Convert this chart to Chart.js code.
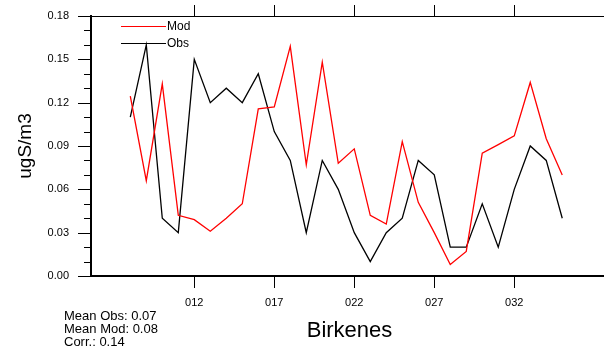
<!DOCTYPE html>
<html>
<head>
<meta charset="utf-8">
<script src="https://cdn.jsdelivr.net/npm/chart.js@4"></script>
<style>
  html, body { margin: 0; padding: 0; background: #fff; overflow: hidden; }
  #wrap { width: 608px; height: 353px; }
</style>
</head>
<body>
<div id="wrap"><canvas id="chart" width="608" height="353"></canvas></div>
<script>
// daily series, day of month
const days = [8, 9, 10, 11, 12, 13, 14, 15, 16, 17, 18, 19, 20, 21, 22, 23, 24, 25, 26, 27, 28, 29, 30, 31, 32, 33, 34, 35];
const obsValues = [0.110, 0.160, 0.040, 0.030, 0.150, 0.120, 0.130, 0.120, 0.140, 0.100, 0.080, 0.030, 0.080, 0.060,
                   0.030, 0.010, 0.030, 0.040, 0.080, 0.070, 0.020, 0.020, 0.050, 0.020, 0.060, 0.090, 0.080, 0.040];
const modValues = [0.1245, 0.066, 0.133, 0.042, 0.039, 0.031, 0.040, 0.050, 0.1157, 0.117, 0.159, 0.077, 0.148, 0.078,
                   0.088, 0.042, 0.036, 0.093, 0.051, 0.030, 0.008, 0.017, 0.085, 0.091, 0.097, 0.134, 0.095, 0.070];
const xTickDays = [12, 17, 22, 27, 32];
const yTickValues = [0, 0.03, 0.06, 0.09, 0.12, 0.15, 0.18];
const statLines = ['Mean Obs: 0.07', 'Mean Mod: 0.08', 'Corr.: 0.14'];
const stationName = 'Birkenes';
const unitLabel = 'ugS/m3';

const FONT = '"Liberation Sans", Arial, Helvetica, sans-serif';

function toPoints(vals) {
  return days.map((d, i) => ({ x: d, y: vals[i] }));
}

// tick marks, legend and stats box drawn on top of the chart
const decorations = {
  id: 'decorations',
  afterDraw(chart) {
    const ctx = chart.ctx;
    const { left, top, bottom } = chart.chartArea;
    const xs = chart.scales.x;
    const ys = chart.scales.y;
    ctx.save();
    ctx.strokeStyle = '#000';
    ctx.lineWidth = 1;

    // y ticks: majors every 0.03, minors every 0.01
    for (let i = 0; i <= 18; i++) {
      const py = Math.round(ys.getPixelForValue(i / 100)) + 0.5;
      const len = i % 3 === 0 ? 13 : 7;
      ctx.beginPath();
      ctx.moveTo(left - len, py);
      ctx.lineTo(left, py);
      ctx.stroke();
    }

    // x ticks, outward on bottom and top
    xTickDays.forEach(d => {
      const px = Math.round(xs.getPixelForValue(d)) + 0.5;
      ctx.beginPath();
      ctx.moveTo(px, bottom);
      ctx.lineTo(px, bottom + 12);
      ctx.moveTo(px, top);
      ctx.lineTo(px, top - 11);
      ctx.stroke();
    });

    // legend
    ctx.font = '12px ' + FONT;
    ctx.textBaseline = 'middle';
    ctx.textAlign = 'left';
    chart.data.datasets.forEach((ds, i) => {
      const ly = 26.5 + i * 17;
      ctx.strokeStyle = ds.borderColor;
      ctx.beginPath();
      ctx.moveTo(121, ly);
      ctx.lineTo(166, ly);
      ctx.stroke();
      ctx.fillStyle = '#000';
      ctx.fillText(ds.label, 167, ly + 0.5);
    });

    // summary statistics
    ctx.font = '13px ' + FONT;
    statLines.forEach((s, i) => ctx.fillText(s, 64, 316 + i * 13));
    ctx.restore();
  }
};

new Chart(document.getElementById('chart'), {
  type: 'line',
  data: {
    datasets: [
      { label: 'Mod', data: toPoints(modValues), borderColor: '#ff0000', borderWidth: 1.3, pointRadius: 0, tension: 0 },
      { label: 'Obs', data: toPoints(obsValues), borderColor: '#000000', borderWidth: 1.3, pointRadius: 0, tension: 0 }
    ]
  },
  options: {
    responsive: false,
    animation: false,
    layout: { padding: 0 },
    plugins: { legend: { display: false }, tooltip: { enabled: false } },
    scales: {
      x: {
        type: 'linear',
        position: 'bottom',
        min: 5.544,
        max: 37.86,
        afterBuildTicks: s => { s.ticks = xTickDays.map(v => ({ value: v })); },
        afterFit: s => { s.height = 77; s.paddingLeft = 0; s.paddingRight = 0; },
        grid: { display: false, drawTicks: false },
        border: { display: true, color: '#000', width: 2 },
        ticks: {
          padding: 20,
          color: '#000',
          font: { family: FONT, size: 11 },
          maxRotation: 0,
          callback: v => String(v).padStart(3, '0')
        },
        title: {
          display: true,
          text: stationName,
          color: '#000',
          font: { family: FONT, size: 22 },
          padding: { top: 0, bottom: 9 }
        }
      },
      xTop: {
        type: 'linear',
        position: 'top',
        min: 5.544,
        max: 37.86,
        afterFit: s => { s.height = 16; s.paddingLeft = 0; s.paddingRight = 0; },
        grid: { display: false, drawTicks: false },
        border: { display: true, color: '#000', width: 1 },
        ticks: { display: false }
      },
      y: {
        min: 0,
        max: 0.18,
        afterBuildTicks: s => { s.ticks = yTickValues.map(v => ({ value: v })); },
        afterFit: s => { s.width = 91; s.paddingTop = 0; s.paddingBottom = 0; },
        grid: { display: false, drawTicks: false },
        border: { display: true, color: '#000', width: 2 },
        ticks: {
          padding: 22,
          color: '#000',
          font: { family: FONT, size: 11 },
          callback: v => v.toFixed(2)
        },
        title: {
          display: true,
          text: unitLabel,
          color: '#000',
          font: { family: FONT, size: 19 },
          padding: { top: 14, bottom: 0 }
        }
      }
    }
  },
  plugins: [decorations]
});
</script>
</body>
</html>
